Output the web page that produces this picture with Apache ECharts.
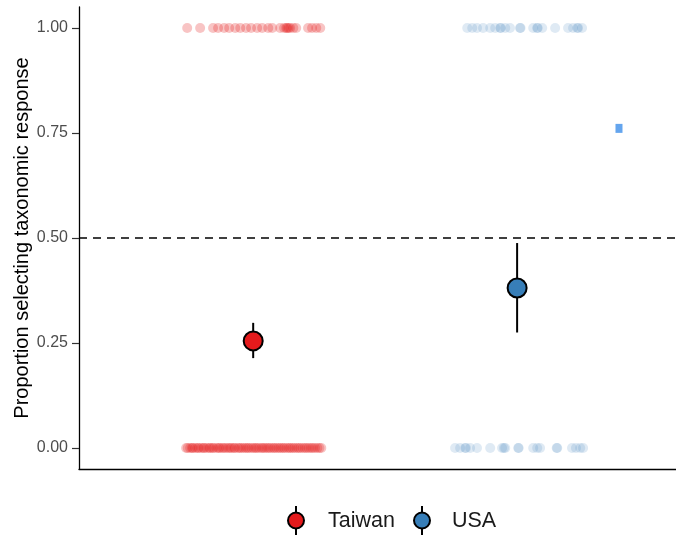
<!DOCTYPE html>
<html>
<head>
<meta charset="utf-8">
<script src="https://cdn.jsdelivr.net/npm/echarts@6/dist/echarts.min.js"></script>
<style>html,body{margin:0;padding:0;background:#fff}#c{width:676px;height:539px}</style>
</head>
<body>
<div id="c"></div>
<script>
// ---- data ----
const groups = ['Taiwan', 'USA'];
const groupPos = [1, 2];
const means = [0.255, 0.381];
const ciLow = [0.214, 0.275];
const ciHigh = [0.298, 0.488];
const yTicks = [0, 0.25, 0.5, 0.75, 1];
const yTickLabels = ['0.00', '0.25', '0.50', '0.75', '1.00'];
const refLine = 0.5;
// jittered raw responses (x position, response value)
const taiwanOnesX = [0.750, 0.799, 0.848, 0.867, 0.890, 0.909, 0.932, 0.951, 0.973, 0.992, 1.015, 1.034, 1.057, 1.072, 1.102, 1.117, 1.129, 1.140, 1.152, 1.163, 1.208, 1.223, 1.239, 1.254, 1.125, 1.134];
const taiwanZerosX = [0.746, 0.752, 0.761, 0.768, 0.772, 0.781, 0.789, 0.794, 0.803, 0.811, 0.815, 0.824, 0.833, 0.838, 0.846, 0.851, 0.862, 0.869, 0.874, 0.883, 0.889, 0.897, 0.905, 0.912, 0.918, 0.927, 0.931, 0.942, 0.948, 0.955, 0.963, 0.971, 0.978, 0.984, 0.993, 1.001, 1.008, 1.014, 1.022, 1.031, 1.037, 1.044, 1.052, 1.059, 1.066, 1.075, 1.081, 1.089, 1.097, 1.104, 1.112, 1.118, 1.127, 1.135, 1.141, 1.149, 1.156, 1.165, 1.172, 1.179, 1.188, 1.196, 1.203, 1.211, 1.219, 1.226, 1.234, 1.243, 1.251, 1.258];
const usaOnesX = [1.811, 1.830, 1.848, 1.871, 1.898, 1.917, 1.936, 1.955, 1.973, 2.011, 2.061, 2.076, 2.095, 2.144, 2.193, 2.212, 2.231, 2.246, 1.938, 2.013, 2.078, 2.228];
const usaZerosX = [1.765, 1.784, 1.803, 1.822, 1.848, 1.898, 1.943, 1.955, 2.004, 2.061, 2.076, 2.087, 2.152, 2.208, 2.223, 2.239, 2.250, 1.806, 1.950, 2.006, 2.150];
const strayPoint = [2.386, 0.761];

const red = '#E41A1C', blue = '#377EB8';
const FONT = 'Liberation Sans, Arial, sans-serif';

const chart = echarts.init(document.getElementById('c'), null, {renderer: 'canvas'});

function jitterSeries(xs, yv, color) {
  return {
    type: 'scatter', silent: true, symbolSize: 10,
    itemStyle: {color: color},
    data: xs.map(x => [x, yv]), z: 2
  };
}

const series = [
  jitterSeries(taiwanOnesX, 1, 'rgba(228,26,28,0.32)'),
  jitterSeries(taiwanZerosX, 0, 'rgba(228,26,28,0.32)'),
  jitterSeries(usaOnesX, 1, 'rgba(55,126,184,0.2)'),
  jitterSeries(usaZerosX, 0, 'rgba(55,126,184,0.2)'),
  {
    type: 'line', silent: true, symbol: 'none', data: [],
    markLine: {
      silent: true, symbol: 'none', label: {show: false},
      lineStyle: {color: '#000', width: 1.5, type: [8, 6]},
      data: [{yAxis: refLine}]
    }, z: 3
  }
];
groups.forEach((g, i) => {
  series.push({
    type: 'line', silent: true, symbol: 'none', z: 4,
    lineStyle: {color: '#000', width: 2},
    data: [[groupPos[i], ciLow[i]], [groupPos[i], ciHigh[i]]]
  });
});
groups.forEach((g, i) => {
  series.push({
    name: g, type: 'scatter', silent: true, symbol: 'circle', symbolSize: 19, z: 5,
    itemStyle: {color: i === 0 ? red : blue, borderColor: '#000', borderWidth: 2, opacity: 1},
    data: [[groupPos[i], means[i]]]
  });
});
series.push({
  type: 'scatter', silent: true, symbol: 'rect', symbolSize: [7, 9], z: 5,
  itemStyle: {color: '#3D8FEA'},
  data: [strayPoint]
});

// legend drawn as graphics (point + errorbar glyph)
function legendItem(cx, color, label, tx) {
  return [
    {type: 'line', shape: {x1: cx, y1: 506, x2: cx, y2: 535}, style: {stroke: '#000', lineWidth: 2}, z: 10},
    {type: 'circle', shape: {cx: cx, cy: 520.5, r: 8}, style: {fill: color, stroke: '#000', lineWidth: 2}, z: 11},
    {type: 'text', x: tx, y: 521, style: {text: label, fontSize: 21.5, fontFamily: FONT, fill: '#1a1a1a', verticalAlign: 'middle', align: 'left'}, z: 11}
  ];
}

chart.setOption({
  animation: false,
  backgroundColor: '#fff',
  grid: {left: 79, right: 0, top: 7, bottom: 70, containLabel: false, outerBoundsMode: 'none'},
  xAxis: {
    type: 'value', min: 0.34, max: 2.602,
    axisLine: {show: true, onZero: false, lineStyle: {color: '#000', width: 1.3}},
    axisTick: {show: false}, axisLabel: {show: false}, splitLine: {show: false}
  },
  yAxis: {
    type: 'value', min: -0.05, max: 1.05,
    name: 'Proportion selecting taxonomic response',
    nameLocation: 'middle', nameGap: 47, nameRotate: 90, nameMoveOverlap: false,
    nameTextStyle: {fontSize: 20, color: '#000', fontFamily: FONT},
    axisLine: {show: true, onZero: false, lineStyle: {color: '#000', width: 1.3}},
    axisTick: {show: true, length: 7, customValues: yTicks, lineStyle: {color: '#333', width: 1.2}},
    axisLabel: {
      show: true, customValues: yTicks, margin: 11, fontSize: 16, color: '#4D4D4D',
      fontFamily: FONT,
      formatter: v => yTickLabels[yTicks.findIndex(t => Math.abs(t - v) < 1e-9)] || ''
    },
    splitLine: {show: false}
  },
  series: series,
  graphic: [].concat(legendItem(296, red, groups[0], 328), legendItem(422, blue, groups[1], 452))
});
</script>
</body>
</html>
